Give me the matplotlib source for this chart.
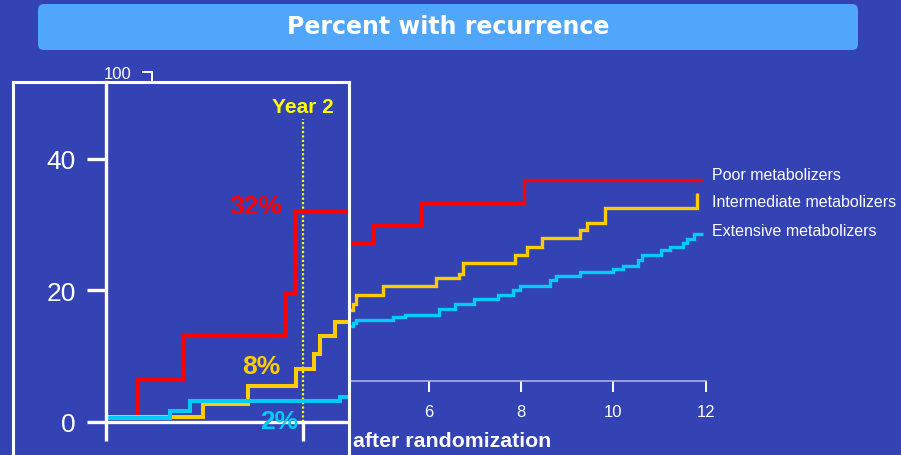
import matplotlib
matplotlib.use("Agg")
import matplotlib.pyplot as plt
from matplotlib.patches import FancyBboxPatch

plt.rcParams['font.family'] = ['Liberation Sans', 'DejaVu Sans']

# ---------------- data ----------------
# Inset (zoomed, first years) – percent with recurrence
inset_red_years = [0, 0.327, 0.783, 1.824, 1.915, 2.47]
inset_red_pct = [0.7, 6.35, 13.1, 19.5, 31.9, 31.9]
inset_yel_years = [0, 0.986, 1.442, 1.93, 2.108, 2.17, 2.32, 2.47]
inset_yel_pct = [0.7, 2.7, 5.5, 8.0, 10.3, 13.1, 15.1, 15.1]
inset_cyan_years = [0, 0.649, 0.851, 2.37, 2.47]
inset_cyan_pct = [0.55, 1.7, 3.2, 3.7, 3.7]

# Full-scale chart (visible part, years 4.2 - 12)
bg_red_years = [4.2, 4.80, 5.83, 8.07, 11.92]
bg_red_pct = [44.7, 50.4, 57.7, 65.0, 65.0]
bg_yel_years = [4.2, 4.36, 4.42, 5.0, 6.15, 6.66, 6.75, 7.87, 8.13, 8.45,
                9.28, 9.43, 9.83, 11.81, 11.81]
bg_yel_pct = [23.0, 24.7, 27.7, 30.6, 33.1, 34.4, 38.2, 40.6, 43.3, 46.1,
              48.7, 51.0, 56.1, 56.1, 60.9]
bg_cyan_years = [4.2, 4.36, 4.42, 5.23, 5.49, 6.23, 6.57, 6.97, 7.49, 7.82,
                 7.97, 8.62, 8.76, 9.28, 10.0, 10.2, 10.54, 10.62, 11.04,
                 11.23, 11.51, 11.6, 11.75, 11.95]
bg_cyan_pct = [17.6, 18.5, 19.6, 20.6, 21.4, 23.1, 24.7, 26.6, 27.9, 29.5,
               30.8, 32.6, 33.9, 35.3, 36.3, 37.3, 39.0, 40.8, 42.2,
               43.4, 44.5, 45.8, 47.6, 47.6]

series_names = ["Poor metabolizers", "Intermediate metabolizers",
                "Extensive metabolizers"]
bg_xticks = [6, 8, 10, 12]
bg_yticks = [100]
inset_yticks = [0, 20, 40]
inset_xticks = [0, 2]
year_mark = 2
inset_labels = ["32%", "8%", "2%"]
title = "Percent with recurrence"
xlabel = "after randomization"

# ---------------- style ----------------
W, H = 901, 456
BG = "#3443B3"
RED = "#FF0000"
YEL = "#FFCC00"
CYAN = "#00CCF5"
BRIGHT_YEL = "#FFFF00"


def rect(x0, x1, y_top, y_bot):
    return [x0 / W, 1 - y_bot / H, (x1 - x0) / W, (y_bot - y_top) / H]


fig = plt.figure(figsize=(W / 100, H / 100), dpi=100, facecolor=BG)

# title banner
banner = FancyBboxPatch((0.38, (H - 51) / 100), 8.2, 0.46,
                        boxstyle="round,pad=0,rounding_size=0.06",
                        transform=fig.dpi_scale_trans,
                        facecolor="#4FA6FB", edgecolor="none")
fig.add_artist(banner)
fig.text(448 / W, 1 - 27.5 / H, title, ha="center", va="center",
         color="white", fontsize=17, fontweight="bold",
         family="DejaVu Sans")

# ---------------- background full chart ----------------
ax_bg = fig.add_axes(rect(152, 705.6, 73.3, 381.5), zorder=1)
ax_bg.set_facecolor("none")
ax_bg.set_xlim(0, 12)
ax_bg.set_ylim(0, 100)
for xs, ys, c in [(bg_red_years, bg_red_pct, RED),
                  (bg_yel_years, bg_yel_pct, YEL),
                  (bg_cyan_years, bg_cyan_pct, CYAN)]:
    ax_bg.plot(xs, ys, drawstyle="steps-post", color=c, lw=2.4,
               solid_joinstyle="miter", solid_capstyle="butt")
for s in ["top", "right"]:
    ax_bg.spines[s].set_visible(False)
ax_bg.spines["left"].set_color("white")
ax_bg.spines["left"].set_linewidth(1.4)
ax_bg.spines["bottom"].set_color("#B4B8E6")
ax_bg.spines["bottom"].set_linewidth(1.1)
ax_bg.set_xticks(bg_xticks)
ax_bg.set_yticks(bg_yticks)
ax_bg.tick_params(axis="x", direction="out", length=8, width=1.4,
                  color="white", labelcolor="white", labelsize=12, pad=9)
ax_bg.tick_params(axis="y", direction="out", length=7, width=1.4,
                  color="white", labelcolor="white", labelsize=12, pad=8)

fig.text(353 / W, 1 - 441.5 / H, xlabel, ha="left", va="center",
         color="white", fontsize=15.3, fontweight="bold")

# legend-like labels
for name, y in zip(series_names, [175, 203, 232]):
    fig.text(712 / W, 1 - y / H, name, ha="left", va="center",
             color="white", fontsize=11.5)

# ---------------- inset box ----------------
ax_box = fig.add_axes(rect(12.5, 349.3, 83, 480), zorder=2)
ax_box.set_facecolor(BG)
ax_box.set_xticks([])
ax_box.set_yticks([])
for s in ax_box.spines.values():
    s.set_color("white")
    s.set_linewidth(2.2)

ax_in = fig.add_axes(rect(106, 348, 83, 422.7), zorder=3)
ax_in.set_facecolor("none")
ax_in.set_xlim(0, (348 - 106) / 98.67)
ax_in.set_ylim(0, (422.7 - 83) / 6.57)
ax_in.vlines(year_mark, 0, 46.1, color=BRIGHT_YEL, lw=1.6,
             linestyle=(0, (1, 1)))
for xs, ys, c in [(inset_red_years, inset_red_pct, RED),
                  (inset_yel_years, inset_yel_pct, YEL),
                  (inset_cyan_years, inset_cyan_pct, CYAN)]:
    ax_in.plot(xs, ys, drawstyle="steps-post", color=c, lw=2.9,
               solid_joinstyle="miter", solid_capstyle="butt")
for s in ["top", "right"]:
    ax_in.spines[s].set_visible(False)
for s in ["left", "bottom"]:
    ax_in.spines[s].set_color("white")
    ax_in.spines[s].set_linewidth(2.4)
ax_in.set_xticks(inset_xticks)
ax_in.set_yticks(inset_yticks)
ax_in.tick_params(axis="x", direction="out", length=13.7, width=2.4,
                  color="white", labelbottom=False)
ax_in.tick_params(axis="y", direction="out", length=13.7, width=2.4,
                  color="white", labelcolor="white", labelsize=19, pad=8)

ax_in.text(year_mark, 47.9, "Year 2", ha="center", va="center",
           color=BRIGHT_YEL, fontsize=15, fontweight="bold")
ax_in.text(1.52, 32.8, inset_labels[0], ha="center", va="center",
           color=RED, fontsize=19, fontweight="bold")
ax_in.text(1.57, 8.5, inset_labels[1], ha="center", va="center",
           color=YEL, fontsize=19, fontweight="bold")
ax_in.text(1.755, 0.15, inset_labels[2], ha="center", va="center",
           color=CYAN, fontsize=19, fontweight="bold")

fig.savefig("out.png", dpi=100, facecolor=BG)
